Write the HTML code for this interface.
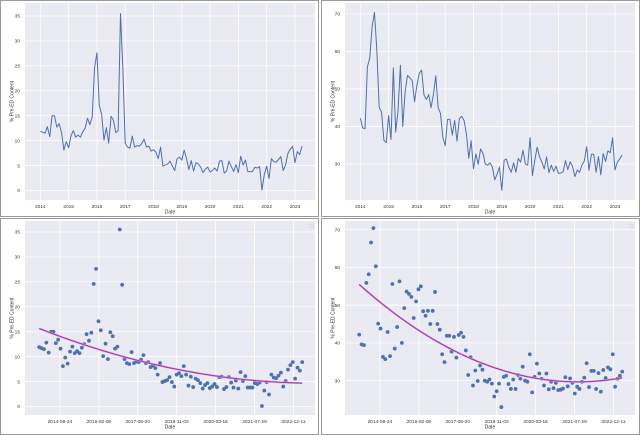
<!DOCTYPE html>
<html><head><meta charset="utf-8">
<style>
html,body{margin:0;padding:0;background:#fff;}
svg{display:block;font-family:"Liberation Sans",sans-serif;}
</style></head>
<body>
<svg id="fig" width="640" height="435" viewBox="0 0 640 435" xmlns="http://www.w3.org/2000/svg"></svg>
<script>
const pctLeft = [11.9,11.7,11.5,12.8,10.8,15,15,12.7,13.4,11.6,8.1,9.8,
8.6,11,12,10.7,11.1,10.7,11.8,12.5,14.5,13.2,14.8,24.6,
27.6,17.1,15.3,10.1,12.6,9.5,14.9,14.1,11.6,12,35.5,24.4,
9.5,8.7,8.5,10.9,8.7,9,8.9,9.4,10.3,8.7,8.9,7.9,
8.2,7.7,6.4,8.7,4.9,5.1,5.3,5.9,4.9,4.0,6.4,6.7,
6.1,8.1,6.4,4.2,6.0,3.9,5.6,5.3,4.7,3.6,4.3,4.7,
3.7,4.0,4.5,3.9,5.9,6.0,3.5,3.9,5.9,4.8,3.8,5.2,
3.6,6.9,5.1,6.1,3.8,3.8,3.8,4.7,4.5,4.8,0.1,3.2,
4.9,2.4,6.4,5.8,5.7,6.2,6.8,4.0,5.1,7.4,8.3,8.9,
5.6,7.8,7.2,8.9];
const pctRight = [42.2,39.6,39.4,55.9,58.2,66.6,70.4,60.3,45.1,43.8,36.3,35.7,
42.9,36.5,55.6,38.5,44.2,56.3,40,49.2,53.6,53,52.2,46.6,
51,54.2,55,48.4,47.2,48.5,45,48.5,53.5,45,43.5,37,
34.9,41.9,41.9,37.7,41.6,36.1,42.1,42.7,41.6,38,31.5,36.2,
28.7,32.7,29.9,34,32.9,30,29.7,30.3,29.2,25.8,27.2,29.2,
23,31,31.3,29.1,27.8,30.3,27.8,31.5,30.5,33.7,30,29.7,
37,26.9,31,34.5,31.9,30.5,28.7,31.9,27.7,29.7,28,29.4,
27.5,27.6,27.9,30.9,28.5,30.6,29.4,26.6,28.4,27.8,29.7,30.8,
34.6,28.3,32.6,32.6,27.8,32,27.1,32.8,30.7,33.5,33,37,
28.4,30.5,31.3,32.4];
const yearTicks = ['2014','2015','2016','2017','2018','2019','2020','2021','2022','2023'];
const dateTicks = ['2014-09-24','2016-02-06','2017-06-20','2018-11-02','2020-03-16','2021-07-29','2022-12-11'];
const leftYTicks = [0,5,10,15,20,25,30,35];
const rightYTicks = [30,40,50,60,70];

const NS='http://www.w3.org/2000/svg';
const svg=document.getElementById('fig');
function mk(tag,attrs,parent){const e=document.createElementNS(NS,tag);for(const k in attrs)e.setAttribute(k,attrs[k]);(parent||svg).appendChild(e);return e;}
function monthIdxOfDate(s){const d=new Date(s+'T00:00:00Z');const d0=Date.UTC(2014,0,1);return (d-d0)/86400000/30.44;}

function quadFit(ys){
  const n=ys.length;let S=[0,0,0,0,0],T=[0,0,0];
  for(let i=0;i<n;i++){const x=i/n;S[0]+=1;S[1]+=x;S[2]+=x*x;S[3]+=x*x*x;S[4]+=x*x*x*x;T[0]+=ys[i];T[1]+=x*ys[i];T[2]+=x*x*ys[i];}
  const A=[[S[0],S[1],S[2],T[0]],[S[1],S[2],S[3],T[1]],[S[2],S[3],S[4],T[2]]];
  for(let c=0;c<3;c++){for(let r=c+1;r<3;r++){const f=A[r][c]/A[c][c];for(let k=c;k<4;k++)A[r][k]-=f*A[c][k];}}
  const b=[0,0,0];for(let r=2;r>=0;r--){let s=A[r][3];for(let k=r+1;k<3;k++)s-=A[r][k]*b[k];b[r]=s/A[r][r];}
  return i=>b[0]+b[1]*(i/n)+b[2]*(i/n)*(i/n);
}

function panel(o){
  const g=mk('g',{});
  
  
  const frame=mk('rect',{x:o.fx,y:o.fy,width:o.fw,height:o.fh,fill:'#fff',stroke:'#9a9a9a','stroke-width':1},g);
  
  
  const X=v=>o.px+(v-o.xmin)/(o.xmax-o.xmin)*o.pw;
  const Y=v=>o.py+o.ph-(v-o.ymin)/(o.ymax-o.ymin)*o.ph;
  const bg=mk('rect',{x:o.px,y:o.py,width:o.pw,height:o.ph,fill:'#eaeaf2'},g);
  
  
  o.yt.forEach(v=>{
    const l=mk('line',{x1:o.px,x2:o.px+o.pw,y1:Y(v),y2:Y(v),stroke:'#fff','stroke-width':0.8},g);
    
    
    const t=mk('text',{x:o.px-5,y:Y(v)+1.7,'font-size':4.8,fill:'#333','text-anchor':'end'},g);
    t.textContent=v;
    
    
  });
  o.xt.forEach((lab,i)=>{
    const m=o.dates?monthIdxOfDate(lab):i*12;
    const l=mk('line',{x1:X(m),x2:X(m),y1:o.py,y2:o.py+o.ph,stroke:'#fff','stroke-width':0.8},g);
    
    
    const t=mk('text',{x:X(m),y:o.py+o.ph+8,'font-size':4.8,fill:'#333','text-anchor':'middle'},g);
    t.textContent=lab;
    
    
  });
  const xl=mk('text',{x:o.px+o.pw/2,y:o.py+o.ph+13.5,'font-size':5,fill:'#333','text-anchor':'middle'},g);
  xl.textContent='Date';
  
  
  const yx=o.fx+13, yy=o.py+o.ph/2;
  const yl=mk('text',{x:yx,y:yy,'font-size':5,fill:'#333','text-anchor':'middle',transform:`rotate(-90 ${yx} ${yy})`},g);
  yl.textContent='% Pre-ED Content';
  
  
  if(o.kind==='line'){
    const d=o.data.map((v,i)=>(i?'L':'M')+X(i).toFixed(2)+','+Y(v).toFixed(2)).join('');
    const p=mk('path',{d:d,fill:'none',stroke:'#4c72b0','stroke-width':1,'stroke-linejoin':'round'},g);
    
    
  } else {
    o.data.forEach((v,i)=>{
      const c=mk('circle',{cx:X(i),cy:Y(v),r:1.9,fill:'#4c72b0'},g);
      
      
    });
    const f=quadFit(o.data);
    let d='';for(let i=0;i<o.data.length;i++)d+=(i?'L':'M')+X(i).toFixed(2)+','+Y(f(i)).toFixed(2);
    const h=mk('path',{d:d,fill:'none',stroke:'#d9a0dc','stroke-width':2},g);
    
    
    const p=mk('path',{d:d,fill:'none',stroke:'#9b2fa6','stroke-width':0.9},g);
    
    
    const lg=mk('rect',{x:o.px+o.pw-5,y:o.py+3,width:3.5,height:3.5,fill:'#eaeaf2',stroke:'#ccc','stroke-width':0.5},g);
    
    
  }
}

panel({name:'line-chart-left',fx:0.5,fy:0.5,fw:318,fh:216,px:25,py:3,pw:290,ph:197,xmin:-6.5,xmax:116.5,ymin:-1.9,ymax:37.6,yt:leftYTicks,xt:yearTicks,dates:false,kind:'line',data:pctLeft});
panel({name:'line-chart-right',fx:321.5,fy:0.5,fw:318,fh:216,px:345,py:3,pw:290,ph:197,xmin:-6.5,xmax:116.5,ymin:20.4,ymax:72.9,yt:rightYTicks,xt:yearTicks,dates:false,kind:'line',data:pctRight});
panel({name:'scatter-trend-left',fx:0.5,fy:218.5,fw:318,fh:216,px:25,py:221,pw:290,ph:194,xmin:-6,xmax:116.4,ymin:-1.7,ymax:37.2,yt:leftYTicks,xt:dateTicks,dates:true,kind:'scatter',data:pctLeft});
panel({name:'scatter-trend-right',fx:321.5,fy:218.5,fw:318,fh:216,px:345,py:221,pw:290,ph:194,xmin:-6,xmax:116.4,ymin:20.9,ymax:72.3,yt:rightYTicks,xt:dateTicks,dates:true,kind:'scatter',data:pctRight});
</script>
</body></html>
